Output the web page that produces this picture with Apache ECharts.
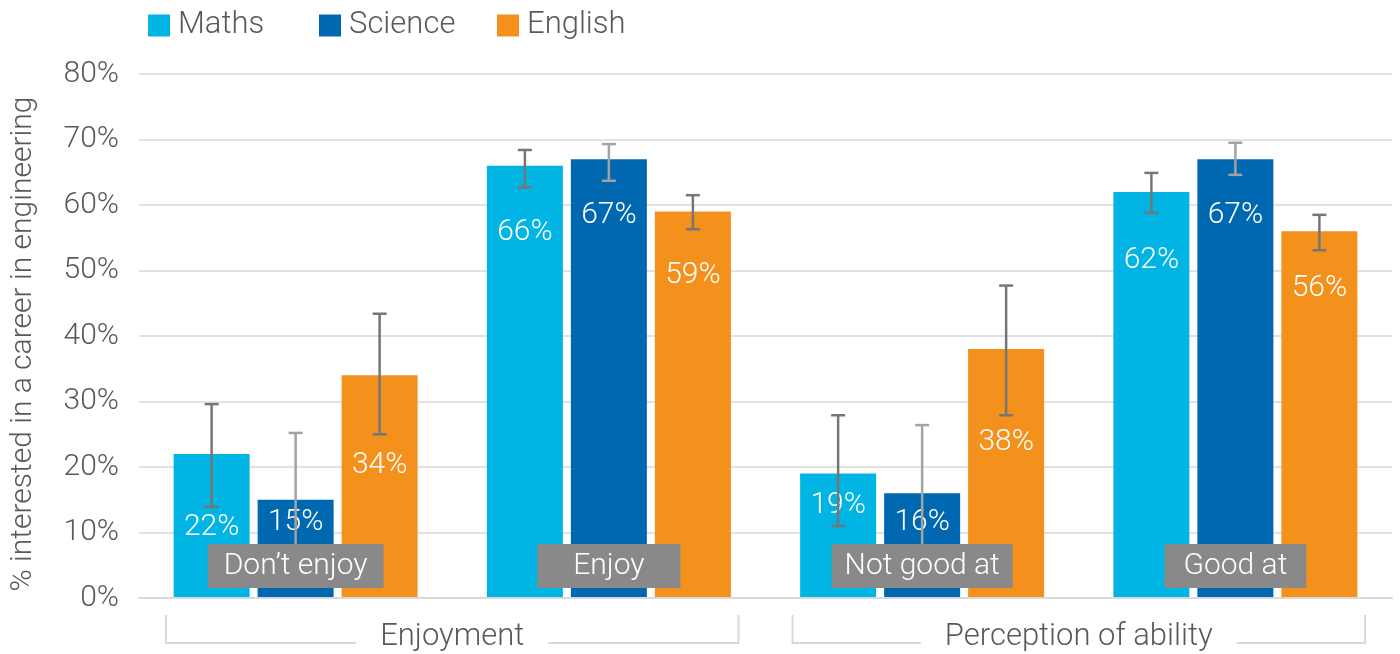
<!DOCTYPE html>
<html>
<head>
<meta charset="utf-8">
<script src="https://cdn.jsdelivr.net/npm/echarts@6/dist/echarts.min.js"></script>
<style>
html,body{margin:0;padding:0;background:#fff;}
#chart{width:1400px;height:654px;}
</style>
</head>
<body>
<div id="chart"></div>
<script>
// ---- data ----
const categories = ["Don’t enjoy", "Enjoy", "Not good at", "Good at"];
const groupNames = ["Enjoyment", "Perception of ability"];
const seriesNames = ["Maths", "Science", "English"];
const maths   = [22, 66, 19, 62];
const science = [15, 67, 16, 67];
const english = [34, 59, 38, 56];
// error bar ranges [low, high]
const mathsErr   = [[13.9, 29.6], [62.7, 68.4], [11.0, 27.9], [58.8, 64.9]];
const scienceErr = [[4.8, 25.2], [63.7, 69.3], [5.6, 26.4], [64.6, 69.5]];
const englishErr = [[25.0, 43.4], [56.3, 61.5], [27.9, 47.7], [53.1, 58.5]];
const yTickMin = 0, yTickMax = 80, yTickStep = 10;

// ---- styling ----
const FONT = 'Roboto, "Noto Sans", sans-serif';
const colors = ['#00B4E4', '#0068B1', '#F3911C'];
const errColors = ['#767676', '#A3A3A3', '#767676'];
const BAR_W = 76, BAR_GAP = 8;
// label distance from bar top (px), per series
const labelDepth = [[74, 67, 32, 69], [23, 56, 29, 56], [90, 64, 93, 57]];
const boxPad = [[6, 16], [6, 36], [6, 13], [6, 19]];
const legendLeft = [148, 319, 497];

const values = [maths, science, english];
const errs = [mathsErr, scienceErr, englishErr];

const chart = echarts.init(document.getElementById('chart'));

const barSeries = values.map((vals, si) => ({
  name: seriesNames[si],
  type: 'bar',
  z: 2,
  barWidth: BAR_W,
  barGap: (BAR_GAP / BAR_W * 100) + '%',
  itemStyle: { color: colors[si] },
  data: vals.map((v, ci) => ({
    value: v,
    label: {
      show: true,
      position: ['50%', labelDepth[si][ci]],
      align: 'center',
      verticalAlign: 'middle',
      formatter: '{c}%',
      color: '#fff',
      fontSize: 30,
      fontWeight: 300,
      fontFamily: FONT
    }
  }))
}));

const errSeries = errs.map((e, si) => ({
  name: seriesNames[si] + ' error',
  type: 'custom',
  z: 3,
  silent: true,
  data: e.map((r, ci) => [ci, r[0], r[1]]),
  renderItem: function (params, api) {
    const ci = api.value(0);
    const lo = api.coord([ci, api.value(1)]);
    const hi = api.coord([ci, api.value(2)]);
    const x = lo[0] + (si - 1) * (BAR_W + BAR_GAP);
    const cap = 7;
    const style = { stroke: errColors[si], lineWidth: 2.5 };
    return {
      type: 'group',
      children: [
        { type: 'line', shape: { x1: x, y1: lo[1], x2: x, y2: hi[1] }, style },
        { type: 'line', shape: { x1: x - cap, y1: hi[1], x2: x + cap, y2: hi[1] }, style },
        { type: 'line', shape: { x1: x - cap, y1: lo[1], x2: x + cap, y2: lo[1] }, style }
      ]
    };
  }
}));

const legends = seriesNames.map((n, i) => ({
  data: [n],
  left: legendLeft[i],
  top: 10,
  padding: 0,
  itemWidth: 22,
  itemHeight: 22,
  icon: 'rect',
  textStyle: { fontSize: 31, color: '#595959', fontWeight: 300, fontFamily: FONT, padding: [0, 0, 0, 3] }
}));

const option = {
  animation: false,
  textStyle: { fontFamily: FONT },
  legend: legends,
  grid: { left: 138, right: 8, top: 74, bottom: 56, containLabel: false },
  xAxis: {
    type: 'category',
    data: categories.map((c, i) => ({ value: c, textStyle: { padding: boxPad[i] } })),
    z: 5,
    axisLine: { lineStyle: { color: '#D9D9D9', width: 2 } },
    axisTick: { show: false },
    axisLabel: {
      inside: true,
      margin: 10,
      color: '#fff',
      fontSize: 30,
      fontWeight: 300,
      fontFamily: FONT,
      lineHeight: 32,
      backgroundColor: '#898989',
      verticalAlign: 'bottom'
    }
  },
  yAxis: {
    type: 'value',
    min: yTickMin,
    max: yTickMax,
    interval: yTickStep,
    name: '% interested in a career in engineering',
    nameLocation: 'middle',
    nameRotate: 90,
    nameGap: 101,
    nameTextStyle: { fontSize: 30, color: '#595959', fontWeight: 300, fontFamily: FONT, padding: [0, 16, 0, 0] },
    axisLine: { show: false },
    axisTick: { show: false },
    axisLabel: {
      formatter: '{value}%',
      margin: 20,
      fontSize: 30,
      color: '#595959',
      fontWeight: 300,
      fontFamily: FONT
    },
    splitLine: { lineStyle: { color: '#D9D9D9', width: 1.5 } }
  },
  series: barSeries.concat(errSeries)
};

chart.setOption(option);

// group brackets below the axis, positioned from the axis scale
function drawBrackets() {
  const c0 = chart.convertToPixel({ xAxisIndex: 0 }, 0);
  const c1 = chart.convertToPixel({ xAxisIndex: 0 }, 1);
  const band = c1 - c0;
  const y0 = chart.convertToPixel({ yAxisIndex: 0 }, 0);
  const inset = 27;
  const elements = [];
  groupNames.forEach((g, gi) => {
    const first = chart.convertToPixel({ xAxisIndex: 0 }, gi * 2);
    const last = chart.convertToPixel({ xAxisIndex: 0 }, gi * 2 + 1);
    const left = first - band / 2 + inset;
    const right = last + band / 2 - inset;
    const yTop = y0 + 17, yBot = y0 + 45;
    const style = { stroke: '#D9D9D9', lineWidth: 2, fill: null };
    elements.push({
      type: 'polyline',
      shape: { points: [[left, yTop], [left, yBot], [right, yBot], [right, yTop]] },
      style
    });
    elements.push({
      type: 'text',
      x: (left + right) / 2,
      y: y0 + 39,
      style: {
        text: g,
        fontSize: 31,
        fontWeight: 300,
        fontFamily: FONT,
        fill: '#595959',
        align: 'center',
        verticalAlign: 'middle',
        backgroundColor: '#fff',
        padding: [0, 24]
      },
      z: 10
    });
  });
  chart.setOption({ graphic: { elements } });
}
drawBrackets();
</script>
</body>
</html>
